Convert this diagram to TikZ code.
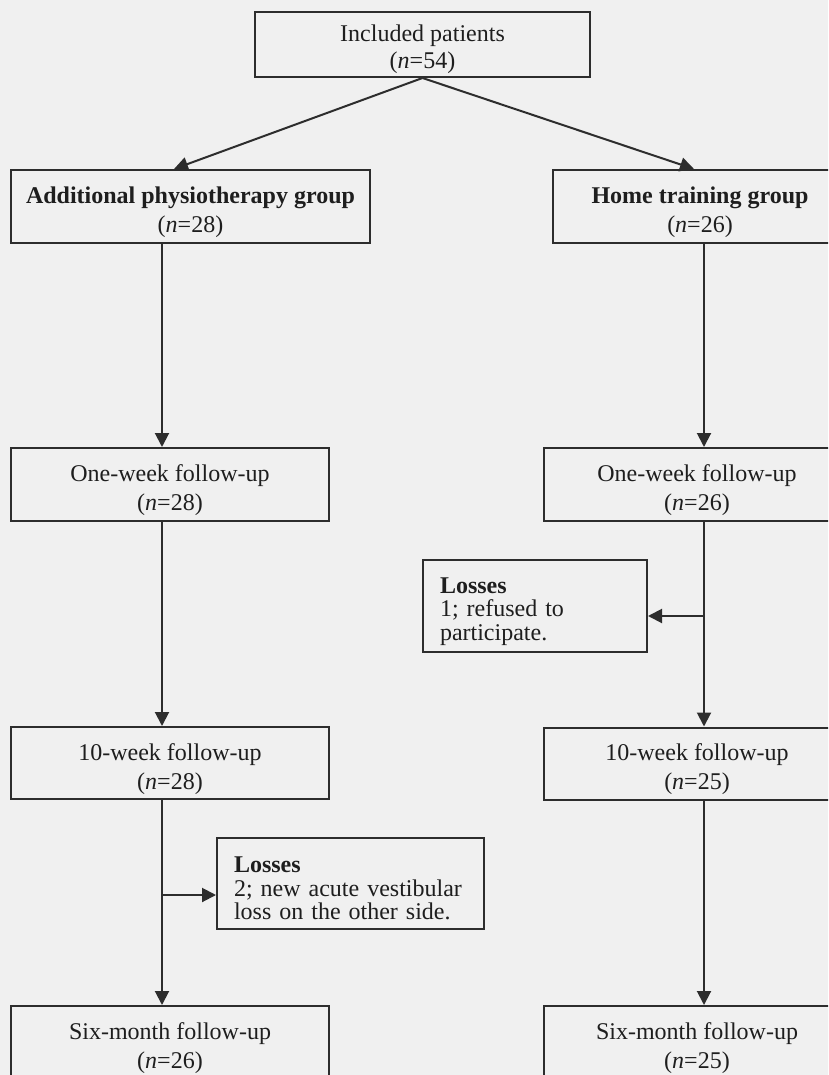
\documentclass[tikz,border=0pt]{standalone}
\usepackage{fontspec}
\setmainfont{Liberation Serif}
\usetikzlibrary{arrows.meta}
\definecolor{ink}{RGB}{45,45,45}
\definecolor{txt}{RGB}{30,30,30}
\definecolor{paper}{RGB}{240,240,240}
\newcommand{\upA}{\rule{0pt}{28.5pt}}
\newcommand{\upB}{\rule{0pt}{26.5pt}}
\newcommand{\upC}{\rule{0pt}{26pt}}
\begin{document}
\begin{tikzpicture}[x=1pt,y=-1pt,
  box/.style={draw=ink, line width=2pt, fill=paper, text=txt, inner sep=0pt, align=center,
    font=\fontsize{24}{29}\selectfont},
  topbox/.style={box, font=\fontsize{24}{27}\selectfont},
  lossbox/.style={draw=ink, line width=2pt, fill=paper, text=txt, inner xsep=17pt, inner ysep=0pt,
    align=left, font=\fontsize{24}{23.5}\selectfont},
  conn/.style={draw=ink, line width=2pt, -{Triangle[length=14pt,width=14pt]}}]
\fill[paper] (0,0) rectangle (828,1075);
\clip (0,0) rectangle (828,1075);
% boxes
\node[topbox, minimum width=335pt, minimum height=65pt] (top) at (422.5,44.5)
  {\upB Included patients\\(\textit{n}=54)};
\node[box, minimum width=359pt, minimum height=73pt] (apg) at (190.5,206.5)
  {\upA\textbf{Additional physiotherapy group}\\(\textit{n}=28)};
\node[box, minimum width=294pt, minimum height=73pt] (htg) at (700,206.5)
  {\upA\textbf{Home training group}\\(\textit{n}=26)};
\node[box, minimum width=318pt, minimum height=73pt] (ow1) at (170,484.5)
  {\upA One-week follow-up\\(\textit{n}=28)};
\node[box, minimum width=306pt, minimum height=73pt] (ow2) at (697,484.5)
  {\upA One-week follow-up\\(\textit{n}=26)};
\node[box, minimum width=318pt, minimum height=72pt] (tw1) at (170,763)
  {\upA 10-week follow-up\\(\textit{n}=28)};
\node[box, minimum width=306pt, minimum height=72pt] (tw2) at (697,763.5)
  {\upA 10-week follow-up\\(\textit{n}=25)};
\node[box, minimum width=318pt, minimum height=73pt] (sm1) at (170,1042.5)
  {\upA Six-month follow-up\\(\textit{n}=26)};
\node[box, minimum width=306pt, minimum height=73pt] (sm2) at (697,1042.5)
  {\upA Six-month follow-up\\(\textit{n}=25)};
\node[lossbox, text width=190pt, minimum height=92pt] (loss2) at (535,606)
  {\rule{0pt}{27pt}\textbf{Losses}\\1; refused to\\participate.};
\node[lossbox, text width=233pt, minimum height=91pt] (loss1) at (350.5,883.5)
  {\upC\textbf{Losses}\\2; new acute vestibular\\loss on the other side.};
% guide coordinates
\coordinate (lc) at (162,0);
\coordinate (rc) at (704,0);
\coordinate (la) at (174,0);
\coordinate (ra) at (694,0);
\coordinate (b1) at (162,895);
\coordinate (b2) at (704,616);
% connectors
\draw[conn] (top.south) -- (apg.north -| la);
\draw[conn] (top.south) -- (htg.north -| ra);
\draw[conn] (apg.south -| lc) -- (ow1.north -| lc);
\draw[conn] (ow1.south -| lc) -- (tw1.north -| lc);
\draw[conn] (tw1.south -| lc) -- (sm1.north -| lc);
\draw[conn] (htg.south -| rc) -- (ow2.north -| rc);
\draw[conn] (ow2.south -| rc) -- (tw2.north -| rc);
\draw[conn] (tw2.south -| rc) -- (sm2.north -| rc);
\draw[conn] (b1) -- (b1 -| loss1.west);
\draw[conn] (b2) -- (b2 -| loss2.east);
\end{tikzpicture}
\end{document}
